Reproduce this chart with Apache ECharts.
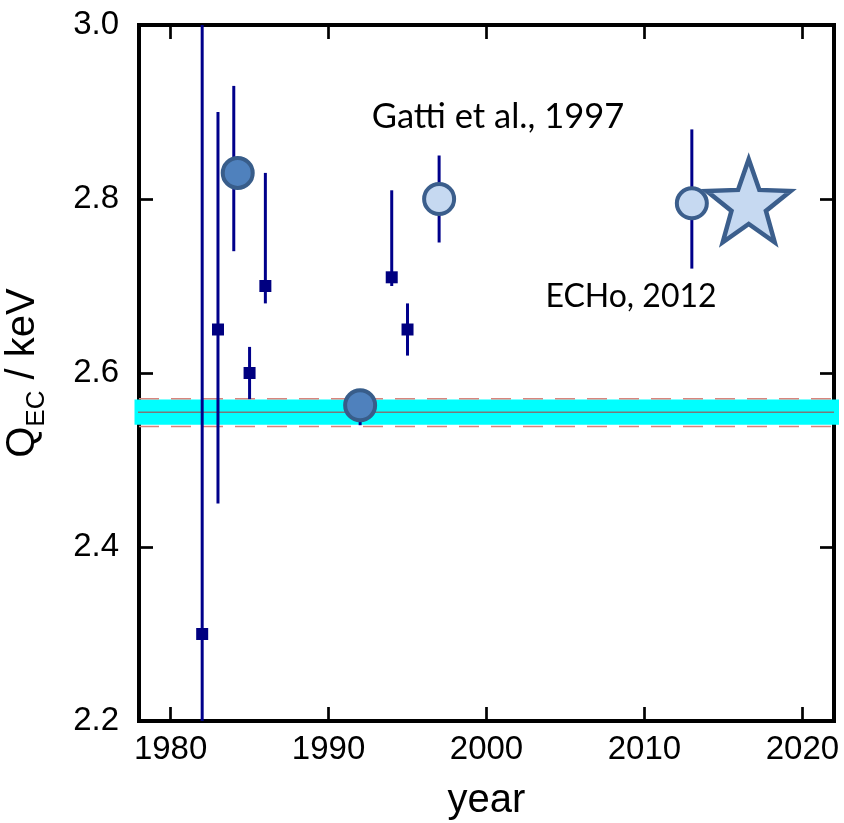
<!DOCTYPE html>
<html><head><meta charset="utf-8">
<script src="https://cdn.jsdelivr.net/npm/echarts@6/dist/echarts.min.js"></script>
<style>html,body{margin:0;padding:0;background:#fff}#c{width:844px;height:823px}</style>
</head><body><div id="c"></div>
<script>
// axis ranges / ticks
const xMin = 1978, xMax = 2022;
const yMin = 2.2, yMax = 3.0;
const xTicks = [1980, 1990, 2000, 2010, 2020];
const yTicks = [2.2, 2.4, 2.6, 2.8, 3.0];
// error bars: year, low, high
const errYears = [1982, 1983, 1984, 1985, 1986, 1992, 1994, 1995, 1997, 2013];
const errLow   = [1.60, 2.45, 2.74, 2.57, 2.68, 2.54, 2.70, 2.62, 2.75, 2.72];
const errHigh  = [3.00, 2.90, 2.93, 2.63, 2.83, 2.58, 2.81, 2.68, 2.85, 2.88];
// square markers
const sqYears  = [1982, 1983, 1985, 1986, 1994, 1995];
const sqValues = [2.30, 2.65, 2.60, 2.70, 2.71, 2.65];
// dark circles
const darkYears  = [1984.25, 1992];
const darkValues = [2.83, 2.563];
// light circles
const lightYears  = [1997, 2013];
const lightValues = [2.80, 2.795];
// star
const starYears  = [2016.6];
const starValues = [2.798];
// reference band
const bandCenter = [2.555];
const bandLow    = [2.5405];
const bandHigh   = [2.5695];
const dashLow    = [2.5385];
const dashHigh   = [2.5705];
// annotations
const notes = ['Gatti et al., 1997', 'ECHo, 2012'];

function starPath(inner) {
  let pts = [];
  for (let i = 0; i < 10; i++) {
    const r = i % 2 === 0 ? 1 : inner;
    const a = -Math.PI / 2 + i * Math.PI / 5;
    pts.push((r * Math.cos(a)).toFixed(4) + ' ' + (r * Math.sin(a)).toFixed(4));
  }
  return 'path://M' + pts.join(' L') + ' Z';
}

const chart = echarts.init(document.getElementById('c'), null, {renderer: 'canvas'});
const axisFont = 'Liberation Sans';
const lineStyleAxis = {color: '#000', width: 4, cap: 'square'};
const tickStyle = {color: '#000', width: 2.7};

const option = {
  animation: false,
  backgroundColor: '#fff',
  grid: {left: 139, right: 10, top: 25, bottom: 102, containLabel: false, outerBoundsMode: 'none'},
  xAxis: [
    {type: 'value', min: xMin, max: xMax, position: 'bottom',
     axisLine: {show: true, onZero: false, lineStyle: lineStyleAxis},
     axisTick: {show: true, inside: true, length: 14, customValues: xTicks, lineStyle: tickStyle},
     axisLabel: {show: true, customValues: xTicks, fontSize: 33, fontFamily: axisFont, color: '#000', margin: 12,
                 formatter: v => String(Math.round(v))},
     splitLine: {show: false},
     name: 'year', nameLocation: 'middle', nameGap: 60,
     nameTextStyle: {fontSize: 40, fontFamily: axisFont, color: '#000'}},
    {type: 'value', min: xMin, max: xMax, position: 'top',
     axisLine: {show: true, onZero: false, lineStyle: lineStyleAxis},
     axisTick: {show: true, inside: true, length: 14, customValues: xTicks, lineStyle: tickStyle},
     axisLabel: {show: false}, splitLine: {show: false}}
  ],
  yAxis: [
    {type: 'value', min: yMin, max: yMax, position: 'left',
     axisLine: {show: true, onZero: false, lineStyle: lineStyleAxis},
     axisTick: {show: true, inside: true, length: 14, customValues: yTicks, lineStyle: tickStyle},
     axisLabel: {show: true, customValues: yTicks, fontSize: 33, fontFamily: axisFont, color: '#000', margin: 20,
                 formatter: v => Number(v).toFixed(1)},
     splitLine: {show: false},
     name: '{q|Q}{s|EC}{k| / keV}', nameLocation: 'middle', nameGap: 92, nameRotate: 90,
     nameTextStyle: {color: '#000', fontFamily: axisFont,
       rich: {
         q: {fontSize: 40, fontFamily: axisFont, color: '#000', verticalAlign: 'top', lineHeight: 44},
         s: {fontSize: 26, fontFamily: axisFont, color: '#000', verticalAlign: 'top', lineHeight: 28, padding: [21, 0, 0, 0]},
         k: {fontSize: 40, fontFamily: axisFont, color: '#000', verticalAlign: 'top', lineHeight: 44}
       }}},
    {type: 'value', min: yMin, max: yMax, position: 'right',
     axisLine: {show: true, onZero: false, lineStyle: lineStyleAxis},
     axisTick: {show: true, inside: true, length: 14, customValues: yTicks, lineStyle: tickStyle},
     axisLabel: {show: false}, splitLine: {show: false}}
  ],
  graphic: [
    {type: 'text', x: 498, y: 117, z: 10,
     style: {text: notes[0], fontFamily: 'Lato', fontSize: 34.5, fill: '#000', align: 'center', verticalAlign: 'middle'}},
    {type: 'text', x: 631, y: 297, z: 10,
     style: {text: notes[1], fontFamily: 'Lato', fontSize: 32, fill: '#000', align: 'center', verticalAlign: 'middle'}}
  ],
  series: [
    {type: 'custom', z: 2, clip: false, silent: true,
     data: bandCenter.map((c, i) => [c, bandLow[i], bandHigh[i], dashLow[i], dashHigh[i]]),
     encode: {y: [0, 1, 2, 3, 4]},
     renderItem: function (params, api) {
       const cs = params.coordSys;
       const yOf = v => api.coord([xMin, v])[1];
       const yc = yOf(api.value(0)), yl = yOf(api.value(1)), yh = yOf(api.value(2));
       const ydl = yOf(api.value(3)), ydh = yOf(api.value(4));
       const x0 = cs.x, x1 = cs.x + cs.width;
       return {type: 'group', children: [
         {type: 'rect', shape: {x: x0 - 4.5, y: yh, width: (x1 + 5) - (x0 - 4.5), height: yl - yh},
          style: {fill: '#00ffff'}},
         {type: 'line', shape: {x1: x0 - 1, y1: yc, x2: x1, y2: yc},
          style: {stroke: '#7a7a7a', lineWidth: 1.5}},
         {type: 'line', shape: {x1: x0, y1: ydh, x2: x1 + 1, y2: ydh},
          style: {stroke: '#d9847c', lineWidth: 1.5, lineDash: [20, 12]}},
         {type: 'line', shape: {x1: x0, y1: ydl, x2: x1 + 1, y2: ydl},
          style: {stroke: '#d9847c', lineWidth: 1.5, lineDash: [20, 12]}}
       ]};
     }},
    {type: 'custom', z: 3, clip: true, silent: true,
     data: errYears.map((y, i) => [y, errLow[i], errHigh[i]]),
     encode: {x: 0, y: [1, 2]},
     renderItem: function (params, api) {
       const p1 = api.coord([api.value(0), api.value(1)]);
       const p2 = api.coord([api.value(0), api.value(2)]);
       return {type: 'line', shape: {x1: p1[0], y1: p1[1], x2: p2[0], y2: p2[1]},
               style: {stroke: '#00008b', lineWidth: 3}};
     }},
    {type: 'scatter', z: 4, symbol: 'rect', symbolSize: 12,
     itemStyle: {color: '#000080', opacity: 1},
     data: sqYears.map((y, i) => [y, sqValues[i]])},
    {type: 'scatter', z: 5, symbol: 'circle', symbolSize: 30,
     itemStyle: {color: '#4f81bd', borderColor: '#385d8a', borderWidth: 4, opacity: 1},
     data: darkYears.map((y, i) => [y, darkValues[i]])},
    {type: 'scatter', z: 5, symbol: 'circle', symbolSize: 30,
     itemStyle: {color: '#c6d9f1', borderColor: '#3b5e8c', borderWidth: 4, opacity: 1},
     data: lightYears.map((y, i) => [y, lightValues[i]])},
    {type: 'scatter', z: 5, symbol: starPath(0.41), symbolSize: [84, 83], symbolKeepAspect: false,
     itemStyle: {color: '#c6d9f1', borderColor: '#3b5e8c', borderWidth: 4.5, opacity: 1},
     data: starYears.map((y, i) => [y, starValues[i]])}
  ]
};
chart.setOption(option);
</script>
</body></html>
